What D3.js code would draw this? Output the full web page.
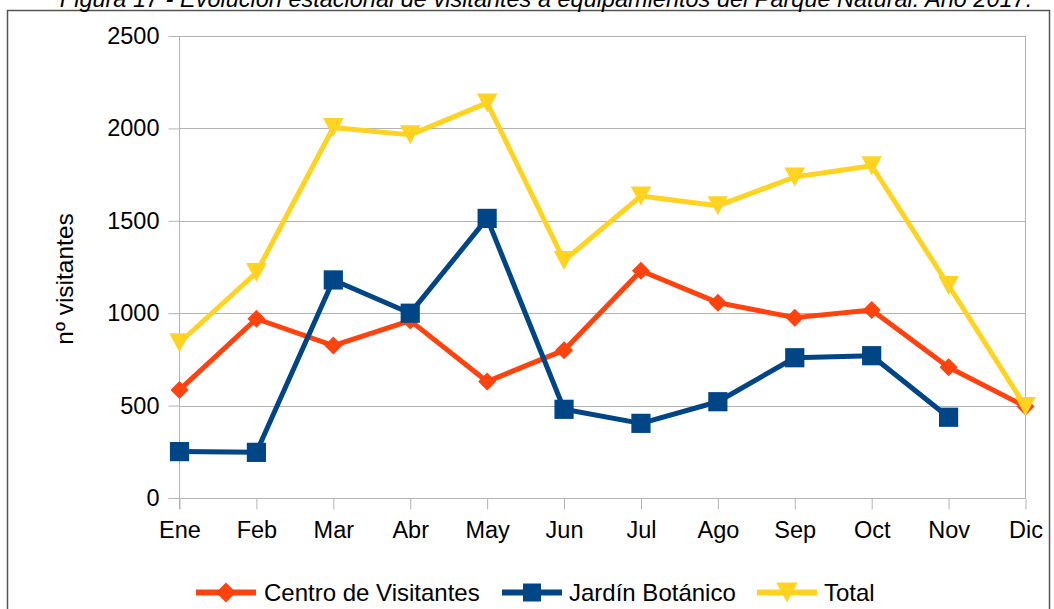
<!DOCTYPE html>
<html>
<head>
<meta charset="utf-8">
<script src="https://cdn.jsdelivr.net/npm/d3@7"></script>
<style>
  html, body { margin: 0; padding: 0; background: #fff; }
  svg { display: block; font-family: "Liberation Sans", Arial, sans-serif; }
</style>
</head>
<body>
<svg id="chart" width="1054" height="609"></svg>
<script>
// Monthly visitors to the Natural Park facilities, 2017
const months = ["Ene", "Feb", "Mar", "Abr", "May", "Jun", "Jul", "Ago", "Sep", "Oct", "Nov", "Dic"];
const centroVisitantes = [585, 970, 825, 960, 630, 800, 1230, 1057, 976, 1017, 707, 495];
const jardinBotanico = [251, 247, 1180, 1000, 1513, 480, 404, 521, 759, 770, 437, null];
const totalVisitantes = [840, 1220, 2005, 1965, 2138, 1285, 1634, 1582, 1737, 1798, 1150, 495];
const yTicks = [0, 500, 1000, 1500, 2000, 2500];

const seriesNames = ["Centro de Visitantes", "Jardín Botánico", "Total"];
const seriesColors = ["#ff420e", "#004586", "#ffd320"];
const seriesShapes = ["diamond", "square", "triangle"];
const seriesValues = [centroVisitantes, jardinBotanico, totalVisitantes];

const svg = d3.select("#chart");

// Outer frame and caption
svg.append("rect")
  .attr("x", 7.5).attr("y", 10.5)
  .attr("width", 1042).attr("height", 620)
  .attr("fill", "none").attr("stroke", "#555").attr("stroke-width", 1.5);

svg.append("text")
  .attr("x", 546).attr("y", 7)
  .attr("text-anchor", "middle")
  .attr("font-style", "italic")
  .attr("font-size", 23.5)
  .attr("fill", "#000")
  .text("Figura 17 - Evolución estacional de visitantes a equipamientos del Parque Natural. Año 2017.");

const plot = { left: 179.5, right: 1025.5, top: 36, bottom: 498 };

const x = d3.scalePoint().domain(months).range([plot.left, plot.right]);
const y = d3.scaleLinear().domain([0, 2500]).range([plot.bottom, plot.top]);

const gridColor = "#b3b3b3";

// Horizontal gridlines
svg.append("g").selectAll("line").data(yTicks).join("line")
  .attr("x1", plot.left).attr("x2", plot.right)
  .attr("y1", d => Math.round(y(d)) + 0.5).attr("y2", d => Math.round(y(d)) + 0.5)
  .attr("stroke", gridColor).attr("stroke-width", 1);

// Right border of the plot area
svg.append("line")
  .attr("x1", plot.right).attr("x2", plot.right)
  .attr("y1", plot.top).attr("y2", plot.bottom)
  .attr("stroke", gridColor);

// Y axis
const yAxis = svg.append("g")
  .attr("transform", `translate(${plot.left},0)`)
  .call(d3.axisLeft(y).tickValues(yTicks).tickSize(11).tickPadding(9).tickFormat(d3.format("d")));
yAxis.select(".domain").attr("stroke", gridColor).attr("d", `M0,${plot.top}V${plot.bottom + 11}`);
yAxis.selectAll(".tick line").attr("stroke", gridColor);
yAxis.selectAll(".tick text").attr("font-size", 23.5).attr("fill", "#000")
  .attr("font-family", "Liberation Sans, Arial, sans-serif");

// X axis
const xAxis = svg.append("g")
  .attr("transform", `translate(0,${Math.round(y(0)) + 0.5})`)
  .call(d3.axisBottom(x).tickSize(11).tickPadding(12));
xAxis.select(".domain").attr("stroke", gridColor).attr("d", `M${plot.left},0H${plot.right}`);
xAxis.selectAll(".tick line").attr("stroke", gridColor);
xAxis.selectAll(".tick text").attr("font-size", 23.5).attr("fill", "#000")
  .attr("font-family", "Liberation Sans, Arial, sans-serif");

// Y axis title
svg.append("text")
  .attr("transform", "translate(73,279) rotate(-90)")
  .attr("text-anchor", "middle")
  .attr("font-size", 24.5)
  .attr("fill", "#000")
  .text("nº visitantes");

// Marker path generator
function markerPath(shape, s) {
  if (shape === "square") return `M${-s},${-s}H${s}V${s}H${-s}Z`;
  if (shape === "diamond") return `M0,${-s}L${s},0L0,${s}L${-s},0Z`;
  return `M${-s * 1.08},${-s}H${s * 1.08}L0,${s}Z`;
}

const line = d3.line()
  .defined(d => d.v != null)
  .x(d => x(d.m))
  .y(d => y(d.v));

seriesValues.forEach((vals, i) => {
  const pts = months.map((m, j) => ({ m, v: vals[j] }));
  const g = svg.append("g");
  g.append("path")
    .datum(pts)
    .attr("d", line)
    .attr("fill", "none")
    .attr("stroke", seriesColors[i])
    .attr("stroke-width", 5)
    .attr("stroke-linejoin", "round");
  const size = seriesShapes[i] === "square" ? 9.6 : (seriesShapes[i] === "diamond" ? 9 : 9.5);
  g.selectAll("path.mk").data(pts.filter(d => d.v != null)).join("path")
    .attr("class", "mk")
    .attr("transform", d => `translate(${x(d.m)},${y(d.v)})`)
    .attr("d", markerPath(seriesShapes[i], size))
    .attr("fill", seriesColors[i]);
});

// Legend
const legendItems = [
  { lx: 196, tx: 264 },
  { lx: 502, tx: 569 },
  { lx: 757, tx: 824 }
];
const legend = svg.append("g");
legendItems.forEach((it, i) => {
  const cy = 592.5;
  legend.append("line")
    .attr("x1", it.lx).attr("x2", it.lx + 60)
    .attr("y1", cy).attr("y2", cy)
    .attr("stroke", seriesColors[i]).attr("stroke-width", 6);
  const ms = seriesShapes[i] === "square" ? 9 : 10;
  legend.append("path")
    .attr("transform", `translate(${it.lx + 30},${cy})`)
    .attr("d", markerPath(seriesShapes[i], ms))
    .attr("fill", seriesColors[i]);
  legend.append("text")
    .attr("x", it.tx).attr("y", 601)
    .attr("font-size", 24)
    .attr("fill", "#000")
    .text(seriesNames[i]);
});
</script>
</body>
</html>
